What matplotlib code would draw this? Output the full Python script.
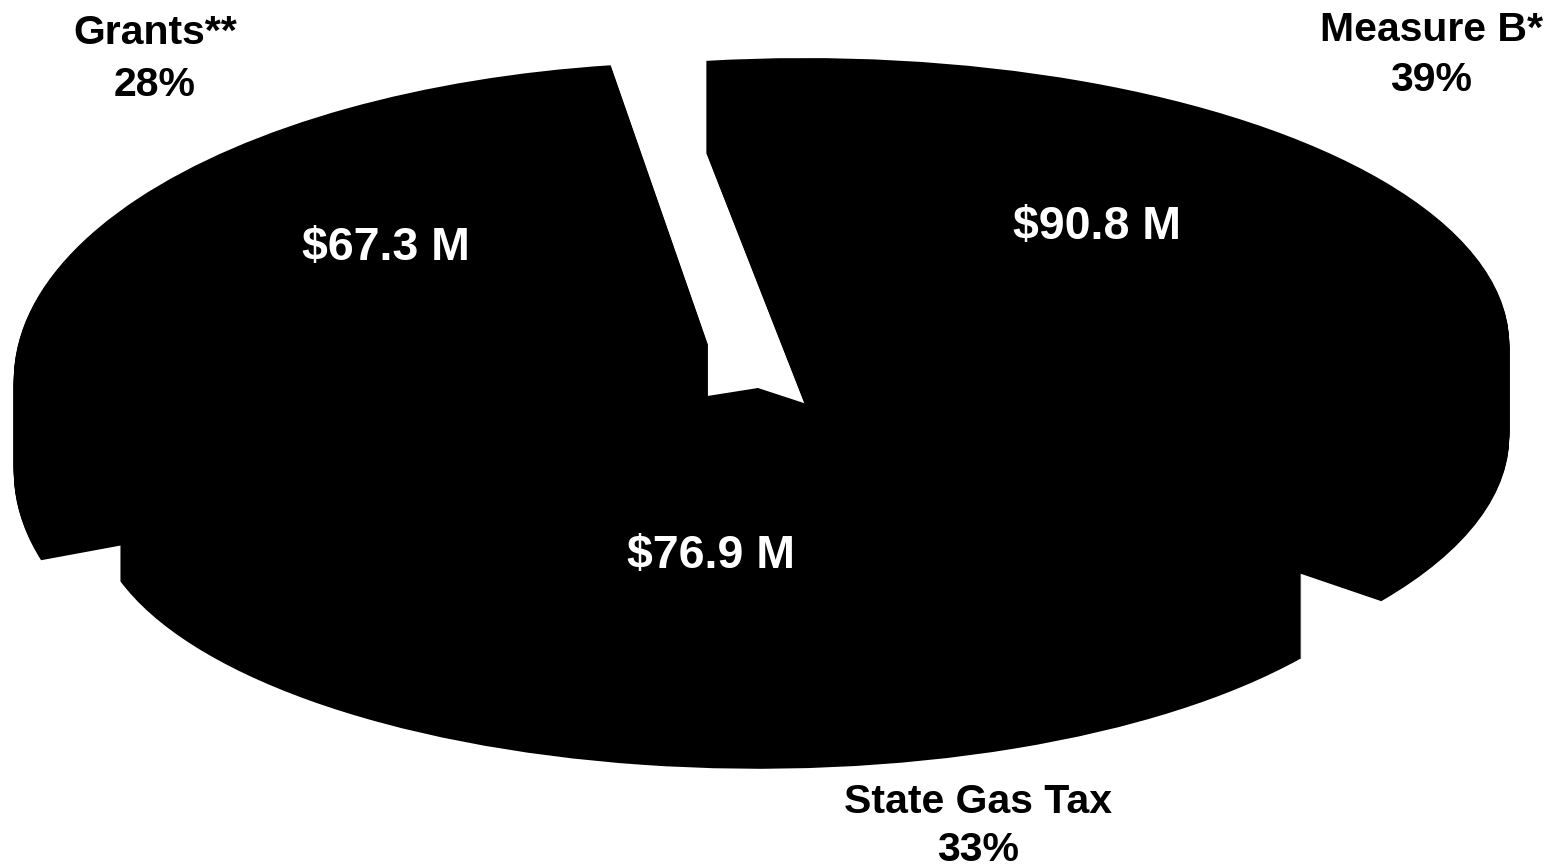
import numpy as np
import matplotlib
matplotlib.use('Agg')
import matplotlib.pyplot as plt
from matplotlib.transforms import Affine2D, Transform

plt.rcParams['font.family'] = ['Liberation Sans', 'DejaVu Sans']

# funding sources
sources = ['Measure B*', 'State Gas Tax', 'Grants**']
amounts = [90.8, 76.9, 67.3]  # $ millions
percents = [39, 33, 28]

# layout of the tilted pie, in pixels: apex x, apex y, x radius, y radius
slice_shape = [(805, 313, 700, 283), (758, 388, 660, 257), (708, 345, 690, 314)]
draw_order = [2, 0, 1]  # state gas tax slice sits in front
# text baselines
name_pos = [(1431, 41), (978, 813), (155, 44)]
pct_pos = [(1431, 91), (978, 861), (155, 96)]
amount_pos = [(1097, 239), (711, 568), (386, 260)]
depth = 92
tilt = 0.11


# perspective: far side of the pie shrinks a bit, near side grows
class Tilt(Transform):
    input_dims = 2
    output_dims = 2

    def transform_non_affine(self, xy):
        xy = np.asarray(xy, dtype=float)
        w = 1 + tilt * xy[:, 1]
        return np.column_stack([xy[:, 0] / w, xy[:, 1] / w])


fig = plt.figure(figsize=(15.53, 8.65), dpi=100)
ax = fig.add_axes([0, 0, 1, 1])

# stacking the pie gives the extruded side walls
for dy in range(depth, -1, -1):
    wedges, _ = ax.pie(amounts, startangle=99, counterclock=False, radius=1,
                       colors=['black'], wedgeprops={'linewidth': 0})
    for i in draw_order:
        cx, cy, rx, ry = slice_shape[i]
        place = Affine2D().scale(rx, -ry).translate(cx, cy + dy)
        wedges[i].set_transform(Tilt() + place + ax.transData)
        wedges[i].set_zorder(draw_order.index(i) + 1)

ax.set_aspect('auto')
ax.set_xlim(0, 1553)
ax.set_ylim(865, 0)
ax.axis('off')

for i in range(3):
    ax.text(*name_pos[i], sources[i], ha='center', va='baseline', fontsize=29.5,
            fontweight='bold', color='black', zorder=5)
    ax.text(*pct_pos[i], f'{percents[i]}%', ha='center', va='baseline', fontsize=29.5,
            fontweight='bold', color='black', zorder=5)
    ax.text(*amount_pos[i], f'${amounts[i]} M', ha='center', va='baseline', fontsize=33.5,
            fontweight='bold', color='white', zorder=5)

fig.savefig('out.png', dpi=100, facecolor='white')
